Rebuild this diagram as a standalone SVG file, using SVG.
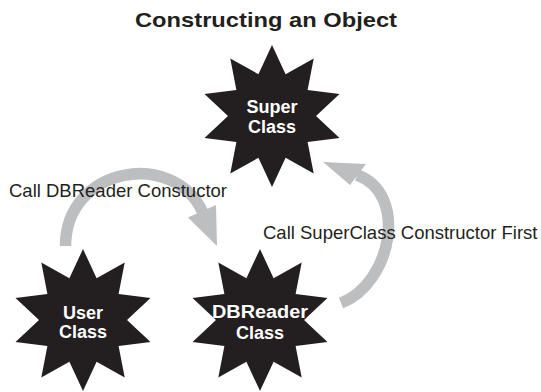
<svg xmlns="http://www.w3.org/2000/svg" xmlns:xlink="http://www.w3.org/1999/xlink" width="541" height="392" viewBox="0 0 541 392">
<style>
.title{font-family:"Liberation Sans",Arial,Helvetica,sans-serif;font-size:21px;font-weight:bold;fill:#231f20;text-anchor:middle}
.lbl{font-family:"Liberation Sans",Arial,Helvetica,sans-serif;font-size:18.5px;fill:#231f20}
.nt{font-family:"Liberation Sans",Arial,Helvetica,sans-serif;font-size:18px;font-weight:bold;fill:#ffffff;text-anchor:middle}
.star{fill:#231f20}
.shaft{fill:none;stroke:#bcbec0;stroke-width:11.5}
.head{fill:#bcbec0}
</style>
<defs>
<path id="star" d="M0,-71 L13.6,-41.8 L41.7,-57.4 L35.6,-25.9 L67.5,-21.9 L44,0 L67.5,21.9 L35.6,25.9 L41.7,57.4 L13.6,41.8 L0,71 L-13.6,41.8 L-41.7,57.4 L-35.6,25.9 L-67.5,21.9 L-44,0 L-67.5,-21.9 L-35.6,-25.9 L-41.7,-57.4 L-13.6,-41.8 Z"/>
</defs>
<text class="title" x="266" y="27" textLength="262" lengthAdjust="spacingAndGlyphs">Constructing an Object</text>
<g id="connectors">
<path class="shaft" d="M65.5,246 C65.5,166 175,148.6 203,213"/>
<polygon class="head" points="188,217.5 216,205 217,246"/>
<path class="shaft" d="M341,303 C392,283.2 408.7,193.2 357,175"/>
<polygon class="head" points="323,162 366,164 350,185"/>
</g>
<text class="lbl" x="9" y="197">Call DBReader Constuctor</text>
<text class="lbl" x="263" y="238.5">Call SuperClass Constructor First</text>
<g id="superclass">
<use xlink:href="#star" class="star" transform="translate(272,116)"/>
<text class="nt" x="272" y="113">Super</text>
<text class="nt" x="272" y="133">Class</text>
</g>
<g id="userclass">
<use xlink:href="#star" class="star" transform="translate(83,320)"/>
<text class="nt" x="83" y="319">User</text>
<text class="nt" x="83" y="338">Class</text>
</g>
<g id="dbreaderclass">
<use xlink:href="#star" class="star" transform="translate(260,320)"/>
<text class="nt" x="260" y="318" textLength="96" lengthAdjust="spacingAndGlyphs">DBReader</text>
<text class="nt" x="260" y="339">Class</text>
</g>
</svg>
